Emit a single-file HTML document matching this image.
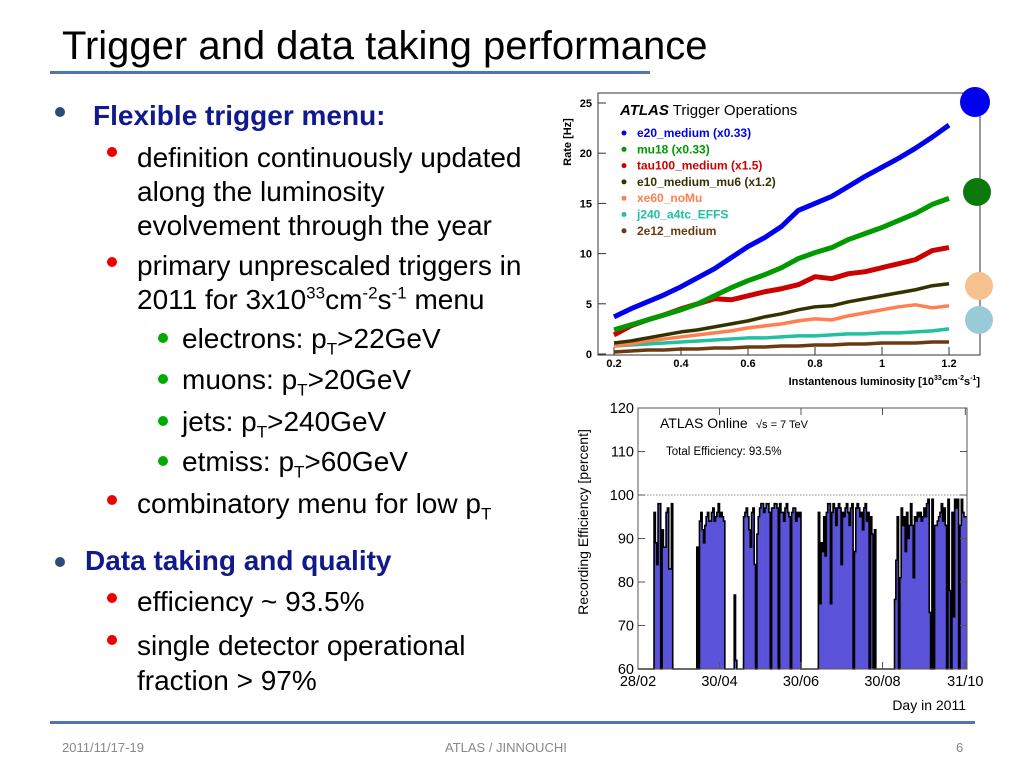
<!DOCTYPE html>
<html><head><meta charset="utf-8"><style>
body{margin:0;width:1024px;height:768px;background:#fff;position:relative;overflow:hidden;font-family:"Liberation Sans",sans-serif}
.t{position:absolute;white-space:nowrap;color:#000;font-size:28px;line-height:28px}
.b{position:absolute;width:10px;height:10px;border-radius:50%}
sup,sub{font-size:17px;line-height:0}
</style></head><body>
<div class="t" style="left:62px;top:26px;font-size:40px;line-height:40px">Trigger and data taking performance</div>
<div style="position:absolute;left:50px;top:71px;width:600px;height:3px;background:#4f76b0"></div>
<div style="position:absolute;left:50px;top:721px;width:925px;height:3px;background:#4f76b0"></div>
<div class="t" style="left:62px;top:741px;font-size:13px;line-height:13px;color:#888">2011/11/17-19</div>
<div class="t" style="left:445px;top:741px;font-size:13px;line-height:13px;color:#888">ATLAS / JINNOUCHI</div>
<div class="t" style="left:956px;top:741px;font-size:13px;line-height:13px;color:#888">6</div>

<div class="b" style="left:55px;top:107px;background:#2e4a7a"></div>
<div class="t" style="left:93px;top:102px;color:#111a8c;font-weight:bold">Flexible trigger menu:</div>
<div class="b" style="left:107px;top:147px;background:#e00"></div>
<div class="t" style="left:137px;top:141px;line-height:34px">definition continuously updated<br>along the luminosity<br>evolvement through the year</div>
<div class="b" style="left:107px;top:257px;background:#e00"></div>
<div class="t" style="left:137px;top:249px;line-height:34px">primary unprescaled triggers in<br>2011 for 3x10<sup>33</sup>cm<sup>-2</sup>s<sup>-1</sup> menu</div>
<div class="b" style="left:158px;top:333px;background:#0a0"></div>
<div class="t" style="left:182px;top:325px">electrons: p<sub>T</sub>&gt;22GeV</div>
<div class="b" style="left:158px;top:374px;background:#0a0"></div>
<div class="t" style="left:182px;top:366px">muons: p<sub>T</sub>&gt;20GeV</div>
<div class="b" style="left:158px;top:416px;background:#0a0"></div>
<div class="t" style="left:182px;top:408px">jets: p<sub>T</sub>&gt;240GeV</div>
<div class="b" style="left:158px;top:456px;background:#0a0"></div>
<div class="t" style="left:182px;top:448px">etmiss: p<sub>T</sub>&gt;60GeV</div>
<div class="b" style="left:107px;top:495px;background:#e00"></div>
<div class="t" style="left:137px;top:490px">combinatory menu for low p<sub>T</sub></div>
<div class="b" style="left:55px;top:557px;background:#2e4a7a"></div>
<div class="t" style="left:85px;top:547px;color:#111a8c;font-weight:bold">Data taking and quality</div>
<div class="b" style="left:107px;top:593px;background:#e00"></div>
<div class="t" style="left:137px;top:588px">efficiency ~ 93.5%</div>
<div class="b" style="left:107px;top:635px;background:#e00"></div>
<div class="t" style="left:137px;top:628px;line-height:35px">single detector operational<br>fraction &gt; 97%</div>

<svg id="top" width="1024" height="768" style="position:absolute;left:0;top:0" font-family="Liberation Sans, sans-serif"></svg>

<script>
// ---------- Top chart data ----------
const lumi = [0.2,0.25,0.3,0.35,0.4,0.45,0.5,0.55,0.6,0.65,0.7,0.75,0.8,0.85,0.9,0.95,1.0,1.05,1.1,1.15,1.2];
const seriesNames = ["e20_medium (x0.33)","mu18 (x0.33)","tau100_medium (x1.5)","e10_medium_mu6 (x1.2)","xe60_noMu","j240_a4tc_EFFS","2e12_medium"];
const e20 = [3.7,4.5,5.2,5.9,6.7,7.6,8.5,9.6,10.7,11.6,12.7,14.3,15.0,15.7,16.7,17.7,18.6,19.5,20.5,21.6,22.8];
const mu18 = [2.4,2.9,3.4,3.9,4.4,5.0,5.8,6.6,7.3,7.9,8.6,9.5,10.1,10.6,11.4,12.0,12.6,13.3,14.0,14.9,15.5];
const tau100 = [1.9,2.8,3.4,3.9,4.5,5.0,5.5,5.4,5.8,6.2,6.5,6.9,7.7,7.5,8.0,8.2,8.6,9.0,9.4,10.3,10.6];
const e10mu6 = [1.1,1.3,1.6,1.9,2.2,2.4,2.7,3.0,3.3,3.7,4.0,4.4,4.7,4.8,5.2,5.5,5.8,6.1,6.4,6.8,7.0];
const xe60 = [0.8,1.0,1.3,1.5,1.7,1.9,2.1,2.3,2.6,2.8,3.0,3.3,3.5,3.4,3.8,4.1,4.4,4.7,4.9,4.6,4.8];
const j240 = [0.8,0.9,1.0,1.1,1.2,1.3,1.4,1.5,1.6,1.6,1.7,1.8,1.8,1.9,2.0,2.0,2.1,2.1,2.2,2.3,2.5];
const e12 = [0.2,0.3,0.4,0.4,0.5,0.5,0.6,0.6,0.7,0.7,0.8,0.8,0.9,0.9,1.0,1.0,1.1,1.1,1.1,1.2,1.2];
const seriesColors = ["#0000ee","#009900","#cc0000","#333300","#ff7f50","#20c0a0","#6b3a10"];
const rateTicks = [0,5,10,15,20,25];
const lumiTicks = [0.2,0.4,0.6,0.8,1,1.2];

// ---------- Bottom chart data ----------
const effFirstDay = 59;
const effSeg0 = [0,0,0,0,0,0,0,0,0,0,0,0];
const effSeg1 = [96,89,84,98,98,60,92,88,88,96,97,83,83,98];
const effGap1 = [0,0,0,0,0,0,0,0,0,0,0,0,0,0,0,0,0,0];
const effSeg2 = [88,60,94,96,92,89,93,95,96,94,94,96,97,94,95,96,98,95,96,95,94];
const effGap2 = [0,0,0,0,0,0,0];
const effSeg3 = [77,62];
const effGap3 = [0,0,0,0,0];
const effSeg4 = [95,96,97,95,92,88,96,97,84,60,91,95,97,98,98,96,97,98,98,96,60,97,97,98,98,97,60,98,96,96,94,97,98,96,95,60,96,97,97,94,96,95,96];
const effGap4 = [0,0,0,0,0,0,0,0,0,0,0,0,0];
const effSeg5 = [96,75,89,87,95,86,96,98,98,75,96,98,97,93,97,98,97,84,96,95,97,98,96,93,97,98,60,87,97,98,97,95,96,92,97,98,94,96,60,95,91,60,92];
const effGap5 = [0,0,0,0,0,0,0,0,0,0,0,0,0,0];
const effSeg6 = [76,85,95,60,81,97,93,95,87,96,90,93,98,93,81,95,94,96,95,96,94,95,97,95,98,99,73,60,99,60,93,93,94,95,96,98,94,97,93,60,99,78,60,96,72,99,97,99,60,93,99,96,95,95];
const effTicks = [60,70,80,90,100,110,120];
const dateLabels = ["28/02","30/04","30/06","30/08","31/10"];
const dateDays = [59,120,181,242,304];

const NS="http://www.w3.org/2000/svg";
const svg=document.getElementById('top');
function mk(tag,attrs,parent){const e=document.createElementNS(NS,tag);for(const k in attrs)e.setAttribute(k,attrs[k]);(parent||svg).appendChild(e);return e;}
function txt(s,attrs,parent){const e=mk('text',attrs,parent);e.textContent=s;return e;}

// ===== top chart =====
const X1=v=>614+(v-0.2)*335;
const Y1=v=>354-v*10.04;
const g1=mk('g',{});


const f1=mk('rect',{x:598,y:93,width:382,height:262,fill:'#fff',stroke:'#333','stroke-width':1},g1);


rateTicks.forEach(t=>{
  mk('line',{x1:598,x2:606,y1:Y1(t),y2:Y1(t),stroke:'#333'},g1);
  const l=txt(String(t),{x:592,y:Y1(t)+4,'text-anchor':'end','font-size':11,'font-weight':'bold'},g1);
  
  
});
lumiTicks.forEach(t=>{
  mk('line',{x1:X1(t),x2:X1(t),y1:355,y2:347,stroke:'#333'},g1);
  const l=txt(String(t),{x:X1(t),y:367,'text-anchor':'middle','font-size':11,'font-weight':'bold'},g1);
  
  
});
const yl=txt('Rate [Hz]',{x:0,y:0,transform:'translate(571,142) rotate(-90)','text-anchor':'middle','font-size':11,'font-weight':'bold'},g1);


const xl=mk('text',{x:980,y:385,'text-anchor':'end','font-size':11,'font-weight':'bold'},g1);
xl.innerHTML='Instantenous luminosity [10<tspan dy="-5" font-size="7">33</tspan><tspan dy="5">cm</tspan><tspan dy="-5" font-size="7">-2</tspan><tspan dy="5">s</tspan><tspan dy="-5" font-size="7">-1</tspan><tspan dy="5">]</tspan>';


const allSeries=[e20,mu18,tau100,e10mu6,xe60,j240,e12];
for(let s=allSeries.length-1;s>=0;s--){
  const vals=allSeries[s];
  const pts=vals.map((v,i)=>X1(lumi[i])+','+Y1(v)).join(' ');
  const pl=mk('polyline',{points:pts,fill:'none',stroke:seriesColors[s],'stroke-width':s<3?5:3.5,'stroke-linejoin':'round'},g1);
  
  
}
const leg=mk('g',{},g1);


const lt=mk('text',{x:620,y:115,'font-size':15},leg);
lt.innerHTML='<tspan font-weight="bold" font-style="italic">ATLAS</tspan> Trigger Operations';
seriesNames.forEach((n,i)=>{
  const y=137+i*16.3;
  mk('circle',{cx:624,cy:y-4,r:2.5,fill:seriesColors[i]},leg);
  const t=txt(n,{x:637,y:y,'font-size':12,'font-weight':'bold',fill:seriesColors[i]},leg);
  
  
});
[[975,102,15,'#0000ee'],[977,192,14,'#0b7a0b'],[979,286,14,'#f7c08f'],[979,320,14,'#98cad8']].forEach(c=>{
  const e=mk('circle',{cx:c[0],cy:c[1],r:c[2],fill:c[3]});
  
  
});

// ===== bottom chart =====
const eff=[].concat(effSeg0,effSeg1,effGap1,effSeg2,effGap2,effSeg3,effGap3,effSeg4,effGap4,effSeg5,effGap5,effSeg6);
const X2=d=>638+(d-59)*1.336;
const Y2=v=>669-(v-60)*4.35;
const g2=mk('g',{});


mk('rect',{x:638,y:408,width:329,height:261,fill:'#fff',stroke:'#555'},g2);
mk('line',{x1:638,x2:967,y1:Y2(100),y2:Y2(100),stroke:'#888','stroke-dasharray':'1.5,1.5'},g2);
let path='';
eff.forEach((v,i)=>{
  if(v>60){
    const x0=X2(effFirstDay+i),x1=X2(effFirstDay+i+1);
    const r=mk('rect',{x:x0,y:Y2(v),width:x1-x0+0.3,height:669-Y2(v),fill:'#5a52d8'},g2);
    
    
  }
  const yv=v>0?Y2(v):669;
  path+=(i===0?'M':'L')+X2(effFirstDay+i)+','+yv+'L'+X2(effFirstDay+i+1)+','+yv;
});
const pe=mk('path',{d:path,fill:'none',stroke:'#000','stroke-width':1.6},g2);


mk('rect',{x:638,y:408,width:329,height:261,fill:'none',stroke:'#555'},g2);
effTicks.forEach(t=>{
  mk('line',{x1:638,x2:645,y1:Y2(t),y2:Y2(t),stroke:'#555'},g2);
  mk('line',{x1:967,x2:960,y1:Y2(t),y2:Y2(t),stroke:'#555'},g2);
  const l=txt(String(t),{x:634,y:Y2(t)+5,'text-anchor':'end','font-size':14.5},g2);
  
  
});
dateLabels.forEach((d,i)=>{
  mk('line',{x1:X2(dateDays[i]),x2:X2(dateDays[i]),y1:669,y2:662,stroke:'#555'},g2);
  mk('line',{x1:X2(dateDays[i]),x2:X2(dateDays[i]),y1:408,y2:415,stroke:'#555'},g2);
  const l=txt(d,{x:X2(dateDays[i]),y:686,'text-anchor':'middle','font-size':14.5},g2);
  
  
});
const yl2=txt('Recording Efficiency [percent]',{x:0,y:0,transform:'translate(588,522) rotate(-90)','text-anchor':'middle','font-size':14},g2);


const xl2=txt('Day in 2011',{x:966,y:710,'text-anchor':'end','font-size':14},g2);


txt('ATLAS Online',{x:660,y:428,'font-size':14},g2);
txt('√s = 7 TeV',{x:756,y:428,'font-size':11},g2);
txt('Total Efficiency: 93.5%',{x:666,y:455,'font-size':11.5},g2);
</script>
</body></html>
